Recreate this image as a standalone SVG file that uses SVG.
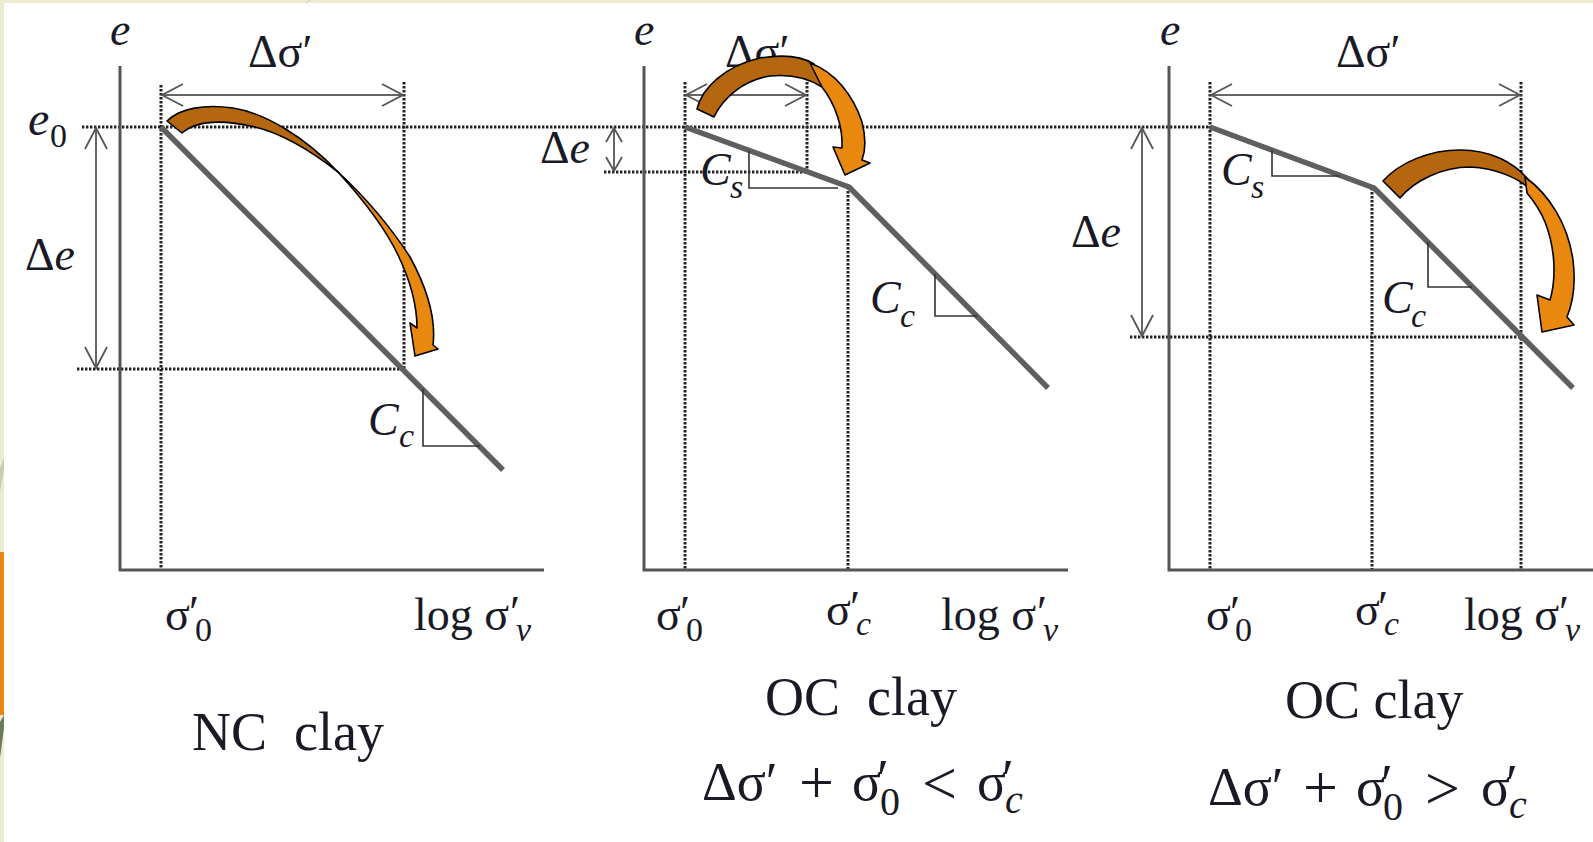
<svg xmlns="http://www.w3.org/2000/svg" width="1593" height="842" viewBox="0 0 1593 842">
<defs>
<style>
.t{font-family:"Liberation Serif","Times New Roman",serif;font-size:46px;fill:#1a1a26}
.it{font-style:italic}
.sub{font-size:34px}
.big{font-size:54px}
.fm{font-size:54px}
.op{font-size:62px}
.fsub{font-size:40px}
.axis{stroke:#555;stroke-width:3;fill:none}
.curve{stroke:#5f5f5f;stroke-width:5.5;fill:none;stroke-linejoin:round}
.dot{stroke:#222;stroke-width:3;stroke-dasharray:2.4 1.6;fill:none}
.dim{stroke:#666;stroke-width:2;fill:none}
.tri{stroke:#333;stroke-width:1.6;fill:none}
.dark{fill:#b5670f;stroke:#000;stroke-width:1.6;stroke-linejoin:round}
.light{fill:#e8880f;stroke:#000;stroke-width:1.6;stroke-linejoin:round}
</style>
<marker id="ah" markerUnits="userSpaceOnUse" markerWidth="30" markerHeight="30" viewBox="-25 -15 30 30" refX="0" refY="0" orient="auto-start-reverse">
<path d="M-21,-11 L0,0 L-21,11" fill="none" stroke="#555" stroke-width="1.8"/>
</marker>
<marker id="ahs" markerUnits="userSpaceOnUse" markerWidth="30" markerHeight="30" viewBox="-25 -15 30 30" refX="0" refY="0" orient="auto-start-reverse">
<path d="M-14,-8 L0,0 L-14,8" fill="none" stroke="#555" stroke-width="1.8"/>
</marker>
</defs>

<g id="background">
<rect x="0" y="0" width="1593" height="842" fill="#eeebd3"/>
<rect x="4" y="3" width="1589" height="839" fill="#ffffff"/>
<rect x="0" y="552" width="4" height="163" fill="#e8880f"/>
<polygon points="0,468 4,458 4,470 0,492" fill="#c9cdb4"/>
<polygon points="0,722 4,715 4,728 0,758" fill="#6b7a5a"/>
<line x1="306" y1="3" x2="310" y2="0" stroke="#c8c8c0" stroke-width="1"/>
</g>

<g id="guides">
<line class="dot" x1="82" y1="127" x2="1210" y2="127"/>
<line class="dot" x1="77" y1="369" x2="404" y2="369"/>
<line class="dot" x1="161" y1="85" x2="161" y2="570"/>
<line class="dot" x1="404" y1="82" x2="404" y2="369"/>
<line class="dot" x1="604" y1="172" x2="807" y2="172"/>
<line class="dot" x1="685" y1="82" x2="685" y2="570"/>
<line class="dot" x1="807" y1="82" x2="807" y2="172"/>
<line class="dot" x1="848" y1="187" x2="848" y2="570"/>
<line class="dot" x1="1130" y1="337" x2="1521" y2="337"/>
<line class="dot" x1="1210" y1="82" x2="1210" y2="570"/>
<line class="dot" x1="1372" y1="188" x2="1372" y2="570"/>
<line class="dot" x1="1521" y1="82" x2="1521" y2="570"/>
</g>

<g id="panel-nc">
<path class="axis" d="M120,66 L120,570 L544,570"/>
<path class="curve" d="M161,127 L503,470"/>
<path class="tri" d="M423,389 L423,446 L480,446"/>
<text class="t it" x="110" y="45">e</text>
<text class="t it" x="28" y="135" style="font-size:48px">e</text>
<text class="t sub" x="50" y="147">0</text>
<text class="t" x="25" y="270">Δ<tspan class="it">e</tspan></text>
<text class="t" x="248" y="67">Δσ′</text>
<text class="t it" x="368" y="435">C</text>
<text class="t it sub" x="399" y="447">c</text>
<text class="t" x="165" y="630">σ</text>
<text class="t" x="189" y="628">′</text>
<text class="t sub" x="195" y="641">0</text>
<text class="t" x="414" y="630">log σ</text>
<text class="t" x="510" y="628">′</text>
<text class="t it sub" x="516" y="641">v</text>
<text class="t big" x="192" y="750">NC&#160; clay</text>
</g>

<g id="panel-oc1">
<path class="axis" d="M644,66 L644,570 L1068,570"/>
<path class="curve" d="M685,127 L849,187 L1048,388"/>
<path class="tri" d="M749,151 L749,188 L838,188"/>
<path class="tri" d="M935,274 L935,316 L977,316"/>
<text class="t it" x="634" y="45">e</text>
<text class="t" x="540" y="163">Δ<tspan class="it">e</tspan></text>
<text class="t" x="725" y="67">Δσ′</text>
<text class="t it" x="700" y="185">C</text>
<text class="t it sub" x="730" y="198">s</text>
<text class="t it" x="870" y="313">C</text>
<text class="t it sub" x="900" y="327">c</text>
<text class="t" x="656" y="630">σ</text>
<text class="t" x="680" y="628">′</text>
<text class="t sub" x="686" y="641">0</text>
<text class="t" x="826" y="625">σ</text>
<text class="t" x="850" y="623">′</text>
<text class="t it sub" x="856" y="635">c</text>
<text class="t" x="941" y="630">log σ</text>
<text class="t" x="1037" y="628">′</text>
<text class="t it sub" x="1043" y="641">v</text>
<text class="t big" x="765" y="715">OC&#160; clay</text>
<text class="t fm" x="702" y="800">Δσ′</text>
<text class="t op" x="799" y="803">+</text>
<text class="t fm" x="852" y="800">σ</text>
<text class="t fm" x="877" y="797">′</text>
<text class="t fsub" x="880" y="815">0</text>
<text class="t op" x="922" y="804">&lt;</text>
<text class="t fm" x="977" y="800">σ</text>
<text class="t fm" x="1002" y="797">′</text>
<text class="t it fsub" x="1005" y="813">c</text>
</g>

<g id="panel-oc2">
<path class="axis" d="M1169,66 L1169,570 L1593,570"/>
<path class="curve" d="M1210,127 L1374,188 L1573,388"/>
<path class="tri" d="M1272,150 L1272,176 L1340,176"/>
<path class="tri" d="M1428,242 L1428,287 L1472,287"/>
<text class="t it" x="1160" y="45">e</text>
<text class="t" x="1071" y="247">Δ<tspan class="it">e</tspan></text>
<text class="t" x="1336" y="67">Δσ′</text>
<text class="t it" x="1221" y="185">C</text>
<text class="t it sub" x="1251" y="198">s</text>
<text class="t it" x="1382" y="313">C</text>
<text class="t it sub" x="1411" y="327">c</text>
<text class="t" x="1206" y="630">σ</text>
<text class="t" x="1230" y="628">′</text>
<text class="t sub" x="1235" y="641">0</text>
<text class="t" x="1355" y="625">σ</text>
<text class="t" x="1378" y="623">′</text>
<text class="t it sub" x="1384" y="635">c</text>
<text class="t" x="1464" y="630">log σ</text>
<text class="t" x="1559" y="628">′</text>
<text class="t it sub" x="1565" y="641">v</text>
<text class="t big" x="1285" y="718">OC clay</text>
<text class="t fm" x="1208" y="805">Δσ′</text>
<text class="t op" x="1303" y="808">+</text>
<text class="t fm" x="1356" y="805">σ</text>
<text class="t fm" x="1381" y="802">′</text>
<text class="t fsub" x="1383" y="820">0</text>
<text class="t op" x="1425" y="809">&gt;</text>
<text class="t fm" x="1481" y="805">σ</text>
<text class="t fm" x="1506" y="802">′</text>
<text class="t it fsub" x="1509" y="818">c</text>
</g>

<g id="connectors">
<line class="dim" x1="162" y1="95" x2="403" y2="95" marker-start="url(#ah)" marker-end="url(#ah)"/>
<line class="dim" x1="96" y1="128" x2="96" y2="368" marker-start="url(#ah)" marker-end="url(#ah)"/>
<line class="dim" x1="686" y1="95" x2="806" y2="95" marker-start="url(#ah)" marker-end="url(#ah)"/>
<line class="dim" x1="614" y1="128" x2="614" y2="171" marker-start="url(#ahs)" marker-end="url(#ahs)"/>
<line class="dim" x1="1211" y1="95" x2="1520" y2="95" marker-start="url(#ah)" marker-end="url(#ah)"/>
<line class="dim" x1="1142" y1="128" x2="1142" y2="336" marker-start="url(#ah)" marker-end="url(#ah)"/>

<g id="arrow-nc">
<path class="dark" d="M167,121 C180,108 205,104 233,108 C265,113 305,137 338,172 C310,150 280,133 255,127 C225,120 197,120 182,133 Z"/>
<path class="light" d="M336,170 C362,194 390,226 410,257 C428,290 436,320 433,345 L438,349 L415,356 L410,323 L417,328 C417,305 410,280 398,255 C385,228 362,198 336,170 Z"/>
</g>
<g id="arrow-oc1">
<path class="dark" d="M697,109 C702,88 725,66 760,58 C785,54 803,57 814,64 L822,87 C808,78 790,74 770,76 C745,80 724,96 714,117 Z"/>
<path class="light" d="M810,63 C835,72 853,95 862,122 C866,138 865,152 862,160 L870,163 L845,175 L833,147 L842,148 C843,128 836,105 822,87 Z"/>
</g>
<g id="arrow-oc2">
<path class="dark" d="M1383,181 C1400,162 1430,150 1460,150 C1490,150 1515,162 1530,182 L1533,192 C1520,178 1495,168 1470,167 C1443,167 1415,180 1400,198 Z"/>
<path class="light" d="M1525,177 C1550,195 1568,225 1573,260 C1576,285 1572,305 1567,317 L1574,325 L1542,332 L1537,295 L1550,300 C1556,280 1556,250 1545,222 C1540,210 1533,200 1527,193 Z"/>
</g>
</g>
</svg>
